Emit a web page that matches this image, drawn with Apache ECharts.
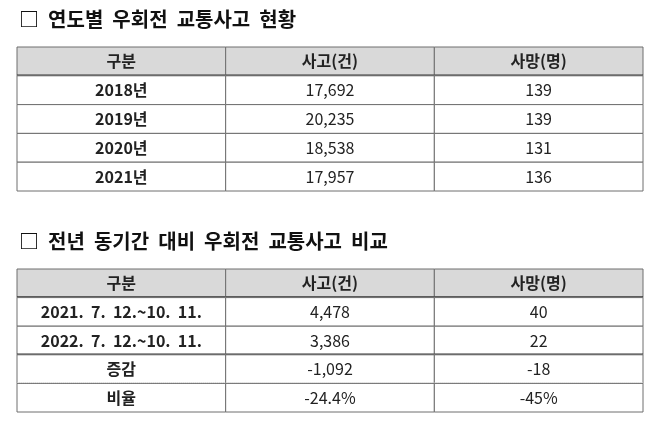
<!DOCTYPE html>
<html><head><meta charset="utf-8">
<script src="https://cdn.jsdelivr.net/npm/echarts@6/dist/echarts.min.js"></script>
<style>html,body{margin:0;background:#fff}#c{width:651px;height:421px}</style>
</head><body><div id="c"></div>
<script>
const title1 = '□  연도별  우회전  교통사고  현황';
const title2 = '□  전년  동기간  대비  우회전  교통사고  비교';
const columns = ['구분', '사고(건)', '사망(명)'];
const years = ['2018년', '2019년', '2020년', '2021년'];
const accidents1 = ['17,692', '20,235', '18,538', '17,957'];
const deaths1 = ['139', '139', '131', '136'];
const periods = ['2021.  7.  12.~10.  11.', '2022.  7.  12.~10.  11.', '증감', '비율'];
const accidents2 = ['4,478', '3,386', '-1,092', '-24.4%'];
const deaths2 = ['40', '22', '-18', '-45%'];

function buildCells(labels, a, d, table) {
  const out = [];
  columns.forEach((c, i) => out.push([i, 0, c, table]));
  labels.forEach((l, r) => {
    out.push([0, r + 1, l, table]);
    out.push([1, r + 1, a[r], table]);
    out.push([2, r + 1, d[r], table]);
  });
  return out;
}
const FONT = '"Noto Sans CJK KR", "Noto Sans", sans-serif';
function render(params, api) {
  const col = api.value(0), row = api.value(1), text = api.value(2), table = api.value(3);
  const p = api.coord([col, row]);
  const s = api.size([1, 1]);
  const x = p[0] - s[0] / 2, y = p[1] - s[1] / 2, w = s[0], h = s[1];
  const header = row === 0;
  const children = [{
    type: 'rect', shape: { x, y, width: w, height: h },
    style: { fill: header ? '#d9d9d9' : '#fff', stroke: '#6f6f6f', lineWidth: 1 }
  }, {
    type: 'text', style: {
      x: x + w / 2, y: y + h / 2, text: text, align: 'center', verticalAlign: 'middle',
      font: ((header || col === 0) ? 'bold ' : '') + '16px ' + FONT, fill: '#222'
    }
  }];
  if (header || (table === 2 && row === 2)) {
    children.push({ type: 'line', shape: { x1: x, y1: y + h, x2: x + w, y2: y + h }, style: { stroke: '#333', lineWidth: 2.5 } });
  }
  if (table === 2 && row === 3) {
    children.push({ type: 'line', shape: { x1: x, y1: y + h, x2: x + w, y2: y + h }, style: { stroke: '#fff', lineWidth: 2 } });
    children.push({ type: 'line', shape: { x1: x, y1: y + h, x2: x + w, y2: y + h }, style: { stroke: '#777', lineWidth: 1, lineDash: [1, 1] } });
  }
  return { type: 'group', children };
}
const hiddenAxis = { show: false };
const chart = echarts.init(document.getElementById('c'));
chart.setOption({
  animation: false,
  title: [
    { text: title1, left: 14, top: 4, textStyle: { fontFamily: FONT, fontSize: 20, fontWeight: 'bold', color: '#111' } },
    { text: title2, left: 14, top: 226, textStyle: { fontFamily: FONT, fontSize: 20, fontWeight: 'bold', color: '#111' } }
  ],
  grid: [
    { left: 17, right: 8, top: 47, height: 144 },
    { left: 17, right: 8, top: 269, height: 143 }
  ],
  xAxis: [
    { type: 'category', data: columns, gridIndex: 0, ...hiddenAxis },
    { type: 'category', data: columns, gridIndex: 1, ...hiddenAxis }
  ],
  yAxis: [
    { type: 'category', data: [0, 1, 2, 3, 4], inverse: true, gridIndex: 0, ...hiddenAxis },
    { type: 'category', data: [0, 1, 2, 3, 4], inverse: true, gridIndex: 1, ...hiddenAxis }
  ],
  series: [
    { type: 'custom', xAxisIndex: 0, yAxisIndex: 0, renderItem: render, data: buildCells(years, accidents1, deaths1, 1) },
    { type: 'custom', xAxisIndex: 1, yAxisIndex: 1, renderItem: render, data: buildCells(periods, accidents2, deaths2, 2) }
  ]
});
</script></body></html>
